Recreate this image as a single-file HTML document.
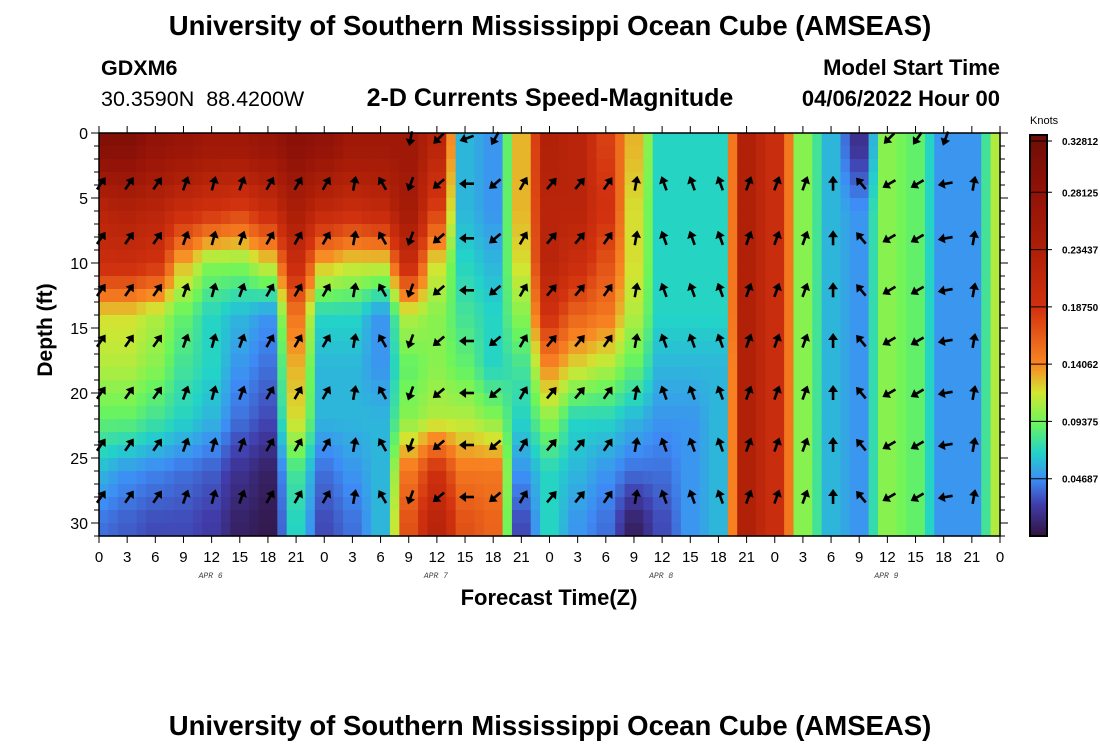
<!DOCTYPE html>
<html><head><meta charset="utf-8"><style>
body{margin:0;background:#fff;width:1100px;height:750px;overflow:hidden;font-family:"Liberation Sans",sans-serif}
</style></head><body>
<svg id="chart" width="1100" height="750" xmlns="http://www.w3.org/2000/svg" font-family="Liberation Sans, sans-serif">
<text x="550" y="35" text-anchor="middle" font-size="27.5" font-weight="bold">University of Southern Mississippi Ocean Cube (AMSEAS)</text>
<text x="101" y="75" font-size="21.5" font-weight="bold">GDXM6</text>
<text x="101" y="106" font-size="21.5" xml:space="preserve">30.3590N  88.4200W</text>
<text x="550" y="106" text-anchor="middle" font-size="25" font-weight="bold">2-D Currents Speed-Magnitude</text>
<text x="1000" y="75" text-anchor="end" font-size="22" font-weight="bold">Model Start Time</text>
<text x="1000" y="106" text-anchor="end" font-size="22" font-weight="bold">04/06/2022 Hour 00</text>
<text transform="translate(52,330) rotate(-90)" text-anchor="middle" font-size="21" font-weight="bold">Depth (ft)</text>
<text x="549" y="605" text-anchor="middle" font-size="22" font-weight="bold">Forecast Time(Z)</text>
<text x="550" y="735" text-anchor="middle" font-size="27.5" font-weight="bold">University of Southern Mississippi Ocean Cube (AMSEAS)</text>
<text x="1030" y="124" font-size="11">Knots</text>
<g id="heat"></g><g id="arrows"></g><g id="axes"></g><g id="cbar"></g>
</svg>
<script>
// hours 0..96 every 3h
const hours = [0,3,6,9,12,15,18,21,24,27,30,33,36,39,42,45,48,51,54,57,60,63,66,69,72,75,78,81,84,87,90,93,96];
const depthCenters = [1,6,10,14,18,22,26,30];
const speed = [
[0.30,0.22,0.2,0.12,0.11,0.09,0.06,0.04],
[0.30,0.23,0.2,0.12,0.11,0.09,0.05,0.035],
[0.28,0.22,0.19,0.11,0.10,0.08,0.045,0.03],
[0.27,0.2,0.13,0.09,0.08,0.07,0.04,0.03],
[0.26,0.19,0.1,0.07,0.07,0.06,0.035,0.025],
[0.26,0.18,0.1,0.06,0.05,0.04,0.02,0.01],
[0.27,0.2,0.12,0.05,0.04,0.03,0.01,0.005],
[0.29,0.24,0.2,0.15,0.13,0.12,0.08,0.07],
[0.28,0.21,0.13,0.07,0.06,0.06,0.04,0.03],
[0.26,0.2,0.12,0.07,0.06,0.06,0.05,0.04],
[0.26,0.21,0.12,0.05,0.05,0.06,0.06,0.06],
[0.26,0.25,0.2,0.11,0.09,0.10,0.15,0.17],
[0.22,0.18,0.12,0.10,0.10,0.11,0.19,0.22],
[0.06,0.06,0.07,0.08,0.09,0.11,0.15,0.17],
[0.05,0.05,0.06,0.07,0.07,0.10,0.15,0.16],
[0.13,0.13,0.12,0.10,0.08,0.07,0.05,0.03],
[0.23,0.22,0.22,0.19,0.14,0.10,0.07,0.07],
[0.22,0.22,0.2,0.16,0.12,0.07,0.06,0.05],
[0.18,0.19,0.17,0.15,0.11,0.07,0.05,0.04],
[0.13,0.12,0.12,0.11,0.09,0.06,0.04,0.01],
[0.07,0.07,0.07,0.07,0.06,0.05,0.04,0.03],
[0.07,0.07,0.07,0.07,0.06,0.05,0.05,0.05],
[0.07,0.07,0.07,0.07,0.06,0.06,0.06,0.06],
[0.23,0.23,0.23,0.23,0.23,0.23,0.23,0.23],
[0.2,0.2,0.2,0.2,0.2,0.2,0.2,0.2],
[0.1,0.1,0.1,0.1,0.1,0.1,0.1,0.1],
[0.06,0.06,0.06,0.06,0.06,0.06,0.06,0.06],
[0.02,0.05,0.05,0.05,0.05,0.05,0.05,0.05],
[0.1,0.1,0.1,0.1,0.1,0.1,0.1,0.1],
[0.09,0.09,0.09,0.09,0.09,0.09,0.09,0.09],
[0.05,0.05,0.05,0.05,0.05,0.05,0.05,0.05],
[0.05,0.05,0.05,0.05,0.05,0.05,0.05,0.05],
[0.11,0.11,0.11,0.11,0.11,0.11,0.11,0.11]];
const arrowHours = [0,3,6,9,12,15,18,21,24,27,30,33,36,39,42,45,48,51,54,57,60,63,66,69,72,75,78,81,84,87,90,93];
const arrowDir = [35,35,35,20,15,20,30,30,30,10,-30,200,230,270,230,30,40,40,35,10,-20,-20,-20,20,20,20,0,-40,240,240,260,10];
const arrowDepths = [3.9,8.1,12.1,16,20,24,28];
const topArrowHours = [33,36,39,42,84,87,90];
const topArrowDir = [190,225,250,210,225,215,200];
const yTicks = [0,5,10,15,20,25,30];
const xTickLabels = ["0","3","6","9","12","15","18","21"];
const dayLabels = ["APR 6","APR 7","APR 8","APR 9"];
const cbTicks = ["0.04687","0.09375","0.14062","0.18750","0.23437","0.28125","0.32812"];
const cbMax = 0.328125;

const NS='http://www.w3.org/2000/svg';
const X0=99,X1=1000,Y0=133,Y1=536;
const xs=h=>X0+(X1-X0)*h/96, ys=d=>Y0+(Y1-Y0)*d/31;
function mk(tag,attrs,parent){const e=document.createElementNS(NS,tag);for(const k in attrs)e.setAttribute(k,attrs[k]);parent.appendChild(e);return e;}
const stops=[[0,[48,18,59]],[0.08,[65,60,170]],[0.143,[62,140,245]],[0.21,[35,210,200]],[0.286,[110,245,90]],[0.36,[210,230,50]],[0.43,[250,135,35]],[0.57,[210,50,15]],[0.71,[175,32,8]],[0.86,[145,18,8]],[1,[110,14,6]]];
function cmap(v){let t=Math.max(0,Math.min(1,v/cbMax));for(let i=1;i<stops.length;i++){if(t<=stops[i][0]){const a=stops[i-1],b=stops[i],f=(t-a[0])/(b[0]-a[0]);return 'rgb('+a[1].map((c,j)=>Math.round(c+(b[1][j]-c)*f)).join(',')+')';}}return 'rgb(110,14,6)';}
function sampleDepth(col,d){const dc=depthCenters;if(d<=dc[0])return col[0];for(let j=1;j<dc.length;j++){if(d<=dc[j]){const f=(d-dc[j-1])/(dc[j]-dc[j-1]);return col[j-1]+(col[j]-col[j-1])*f;}}return col[dc.length-1];}
function sample(h,d){let i=Math.min(hours.length-2,Math.floor(h/3));const f=Math.max(0,Math.min(1,(h-hours[i])/3));
 const g=f<0.3?0:(f>0.7?1:(f-0.3)/0.4);
 return sampleDepth(speed[i],d)*(1-g)+sampleDepth(speed[i+1],d)*g;}
const heat=document.getElementById('heat');
for(let h=0;h<96;h++){for(let d=0;d<31;d++){
 const v=sample(h+0.5,d+0.5);
 const r=mk('rect',{x:xs(h),y:ys(d),width:xs(h+1)-xs(h)+0.6,height:ys(d+1)-ys(d)+0.6,fill:cmap(v)},heat);
 
 
}}
const ag=document.getElementById('arrows');
function arrow(x,y,deg){const g=mk('g',{transform:`translate(${x},${y}) rotate(${deg})`},ag);
 
 
 mk('line',{x1:0,y1:7,x2:0,y2:-3,stroke:'#000','stroke-width':2.6},g);
 mk('polygon',{points:'0,-8 -5,-1 5,-1',fill:'#000'},g);}
arrowHours.forEach((h,i)=>arrowDepths.forEach(d=>arrow(xs(h)+2,ys(d),arrowDir[i])));
topArrowHours.forEach((h,i)=>arrow(xs(h)+2,ys(0.4),topArrowDir[i]));
const ax=document.getElementById('axes');
const fr=mk('rect',{x:X0,y:Y0,width:X1-X0,height:Y1-Y0,fill:'none',stroke:'#000','stroke-width':1.5},ax);

for(let d=0;d<=31;d++){const y=ys(d),L=d%5==0?8:5;mk('line',{x1:X0-L,y1:y,x2:X0,y2:y,stroke:'#000'},ax);mk('line',{x1:X1,y1:y,x2:X1+L,y2:y,stroke:'#000'},ax);}
yTicks.forEach(d=>{const t=mk('text',{x:X0-11,y:ys(d)+6,'text-anchor':'end','font-size':16},ax);t.textContent=d;
 });
for(let h=0;h<=96;h+=3){const x=xs(h);mk('line',{x1:x,y1:Y1,x2:x,y2:Y1+7,stroke:'#000'},ax);mk('line',{x1:x,y1:Y0-7,x2:x,y2:Y0,stroke:'#000'},ax);
 const t=mk('text',{x:x,y:562,'text-anchor':'middle','font-size':15},ax);t.textContent=h==96?'0':xTickLabels[(h/3)%8];
 }
dayLabels.forEach((s,i)=>{const t=mk('text',{x:xs(12+24*i)-1,y:578,'text-anchor':'middle','font-size':8,'font-style':'italic','font-family':'Liberation Mono, monospace',fill:'#444'},ax);t.textContent=s;
 });
const cb=document.getElementById('cbar');const CX=1030,CW=17,CY0=135,CY1=536;
for(let i=0;i<200;i++){const v=cbMax*(1-i/200);mk('rect',{x:CX,y:CY0+(CY1-CY0)*i/200,width:CW,height:(CY1-CY0)/200+0.6,fill:cmap(v)},cb);}
mk('rect',{x:CX,y:CY0,width:CW,height:CY1-CY0,fill:'none',stroke:'#000','stroke-width':2},cb);
cbTicks.forEach((s,i)=>{const v=parseFloat(s);const y=CY1-(CY1-CY0)*Math.min(v,cbMax)/cbMax+(i==6?6:0);
 mk('line',{x1:CX,y1:y,x2:CX+CW+5,y2:y,stroke:'#000'},cb);
 const t=mk('text',{x:CX+CW+15,y:y+4,'font-size':10,'font-weight':'bold'},cb);t.textContent=s;
 });
</script>
</body></html>
